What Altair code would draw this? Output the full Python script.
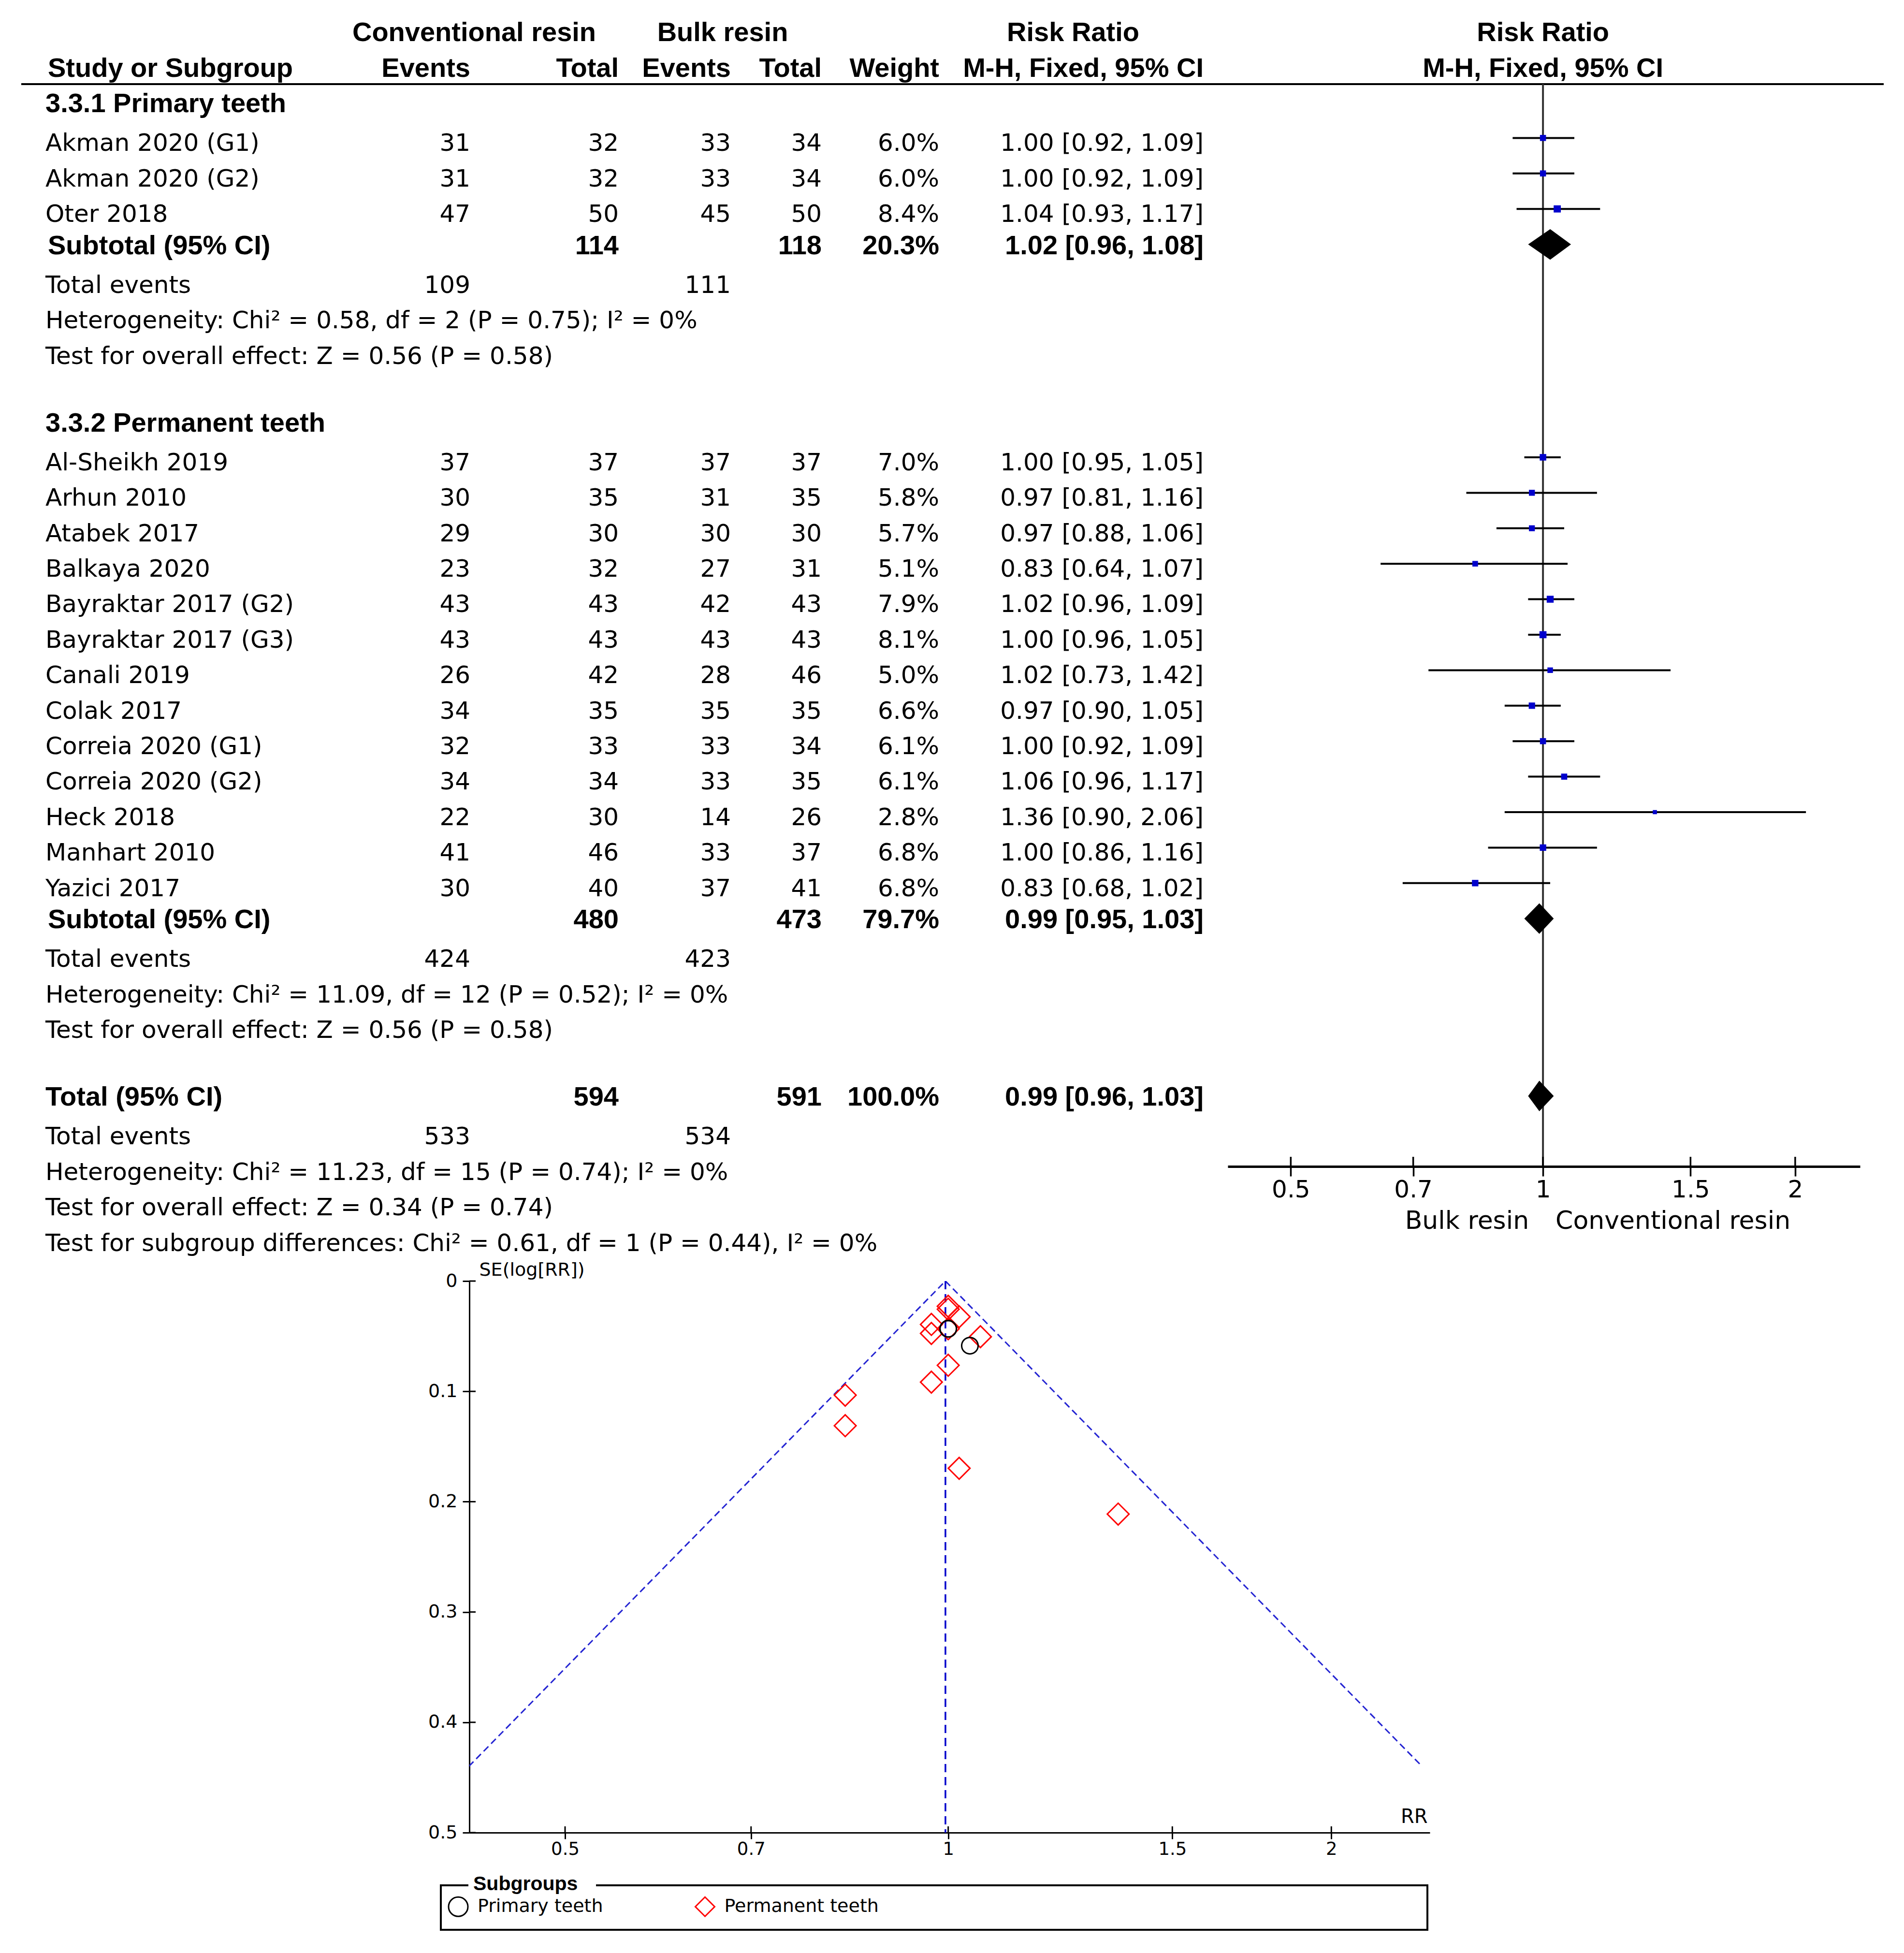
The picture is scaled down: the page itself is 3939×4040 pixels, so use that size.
import math
import altair as alt
import pandas as pd

# ------------------------------------------------------------------ data
group_titles = ["3.3.1 Primary teeth", "3.3.2 Permanent teeth"]
subgroup_names = ["Primary teeth", "Permanent teeth"]

primary_names = ["Akman 2020 (G1)", "Akman 2020 (G2)", "Oter 2018"]
primary_conv_events = [31, 31, 47]
primary_conv_total = [32, 32, 50]
primary_bulk_events = [33, 33, 45]
primary_bulk_total = [34, 34, 50]
primary_weight = [6.0, 6.0, 8.4]
primary_rr = [1.00, 1.00, 1.04]
primary_lo = [0.92, 0.92, 0.93]
primary_hi = [1.09, 1.09, 1.17]

permanent_names = ["Al-Sheikh 2019", "Arhun 2010", "Atabek 2017", "Balkaya 2020",
                   "Bayraktar 2017 (G2)", "Bayraktar 2017 (G3)", "Canali 2019", "Colak 2017",
                   "Correia 2020 (G1)", "Correia 2020 (G2)", "Heck 2018", "Manhart 2010",
                   "Yazici 2017"]
permanent_conv_events = [37, 30, 29, 23, 43, 43, 26, 34, 32, 34, 22, 41, 30]
permanent_conv_total = [37, 35, 30, 32, 43, 43, 42, 35, 33, 34, 30, 46, 40]
permanent_bulk_events = [37, 31, 30, 27, 42, 43, 28, 35, 33, 33, 14, 33, 37]
permanent_bulk_total = [37, 35, 30, 31, 43, 43, 46, 35, 34, 35, 26, 37, 41]
permanent_weight = [7.0, 5.8, 5.7, 5.1, 7.9, 8.1, 5.0, 6.6, 6.1, 6.1, 2.8, 6.8, 6.8]
permanent_rr = [1.00, 0.97, 0.97, 0.83, 1.02, 1.00, 1.02, 0.97, 1.00, 1.06, 1.36, 1.00, 0.83]
permanent_lo = [0.95, 0.81, 0.88, 0.64, 0.96, 0.96, 0.73, 0.90, 0.92, 0.96, 0.90, 0.86, 0.68]
permanent_hi = [1.05, 1.16, 1.06, 1.07, 1.09, 1.05, 1.42, 1.05, 1.09, 1.17, 2.06, 1.16, 1.02]

summary_labels = ["Subtotal (95% CI)", "Subtotal (95% CI)", "Total (95% CI)"]
summary_conv_total = [114, 480, 594]
summary_bulk_total = [118, 473, 591]
summary_weight = [20.3, 79.7, 100.0]
summary_rr = [1.02, 0.99, 0.99]
summary_lo = [0.96, 0.95, 0.96]
summary_hi = [1.08, 1.03, 1.03]
summary_conv_events = [109, 424, 533]
summary_bulk_events = [111, 423, 534]
heterogeneity = ["Heterogeneity: Chi\u00b2 = 0.58, df = 2 (P = 0.75); I\u00b2 = 0%",
                 "Heterogeneity: Chi\u00b2 = 11.09, df = 12 (P = 0.52); I\u00b2 = 0%",
                 "Heterogeneity: Chi\u00b2 = 11.23, df = 15 (P = 0.74); I\u00b2 = 0%"]
overall_effect = ["Test for overall effect: Z = 0.56 (P = 0.58)",
                  "Test for overall effect: Z = 0.56 (P = 0.58)",
                  "Test for overall effect: Z = 0.34 (P = 0.74)"]
subgroup_test = "Test for subgroup differences: Chi\u00b2 = 0.61, df = 1 (P = 0.44), I\u00b2 = 0%"

header_top = ["Conventional resin", "Bulk resin", "Risk Ratio"]
header_cols = ["Events", "Total", "Events", "Total", "Weight", "M-H, Fixed, 95% CI"]
header_study = "Study or Subgroup"
forest_header = ["Risk Ratio", "M-H, Fixed, 95% CI"]
favours = ["Bulk resin", "Conventional resin"]
rr_ticks = [0.5, 0.7, 1, 1.5, 2]
se_ticks = [0, 0.1, 0.2, 0.3, 0.4, 0.5]
pooled_rr = 0.995
funnel_se_max = 0.44

# ------------------------------------------------------------------ layout constants
STEP = 73.4
ROW_TOP = -1.779
REG = 0.12
TXT = 0.04          # small downward nudge of text relative to the row grid
TABLE_W, TABLE_H = 2529, 2600
FOREST_W, FOREST_H = 1308, 2405
FUNNEL_W, FUNNEL_H = 1987, 1141
FUNNEL_X0, FUNNEL_Y0 = 960, 2642       # funnel plot origin in chart coordinates
SPACER_W = FUNNEL_X0
RR_DOMAIN = [0.4205, 2.39]
COL_X = [83, 962, 1269, 1501, 1689, 1932, 2479, 970, 1484, 2209, 88]
COL_ALIGN = ["left", "right", "right", "right", "right", "right", "right",
             "center", "center", "center", "left"]
REGF = "DejaVu Sans"
BOLDF = "Liberation Sans"

groups = [
    dict(title=group_titles[0], sub=subgroup_names[0], names=primary_names,
         ce=primary_conv_events, ct=primary_conv_total, be=primary_bulk_events,
         bt=primary_bulk_total, w=primary_weight, rr=primary_rr, lo=primary_lo, hi=primary_hi),
    dict(title=group_titles[1], sub=subgroup_names[1], names=permanent_names,
         ce=permanent_conv_events, ct=permanent_conv_total, be=permanent_bulk_events,
         bt=permanent_bulk_total, w=permanent_weight, rr=permanent_rr, lo=permanent_lo,
         hi=permanent_hi),
]

text_rows, study_rows, sum_rows = [], [], []


def T(row, col, text, bold):
    text_rows.append(dict(row=row + TXT, col=col, text=str(text), bold=bold))


def ci_text(r, lo, hi):
    return f"{r:.2f} [{lo:.2f}, {hi:.2f}]"


for c, h in zip([7, 8, 9], header_top):
    T(-1, c, h, True)
T(0, 10, header_study, True)
for c, h in zip(range(1, 7), header_cols):
    T(0, c, h, True)


def summary_block(r, k, col_label):
    T(r, col_label, summary_labels[k], True)
    T(r, 2, summary_conv_total[k], True)
    T(r, 4, summary_bulk_total[k], True)
    T(r, 5, f"{summary_weight[k]:.1f}%", True)
    T(r, 6, ci_text(summary_rr[k], summary_lo[k], summary_hi[k]), True)
    sum_rows.append(dict(k=k, row=r, rr=summary_rr[k], lo=summary_lo[k], hi=summary_hi[k]))
    r += 1
    T(r + REG, 0, "Total events", False)
    T(r + REG, 1, summary_conv_events[k], False)
    T(r + REG, 3, summary_bulk_events[k], False)
    r += 1
    T(r + REG, 0, heterogeneity[k], False)
    r += 1
    T(r + REG, 0, overall_effect[k], False)
    return r + 1


r = 1
for k, g in enumerate(groups):
    T(r, 0, g["title"], True)
    r += 1
    for j, name in enumerate(g["names"]):
        y = r + REG
        T(y, 0, name, False)
        T(y, 1, g["ce"][j], False)
        T(y, 2, g["ct"][j], False)
        T(y, 3, g["be"][j], False)
        T(y, 4, g["bt"][j], False)
        T(y, 5, f"{g['w'][j]:.1f}%", False)
        T(y, 6, ci_text(g["rr"][j], g["lo"][j], g["hi"][j]), False)
        se = (math.log(g["hi"][j]) - math.log(g["lo"][j])) / 3.92
        study_rows.append(dict(row=r, rr=g["rr"][j], lo=g["lo"][j], hi=g["hi"][j],
                               weight=g["w"][j], subgroup=g["sub"], se=se, name=name))
        r += 1
    r = summary_block(r, k, 10)
    r += 1
r = summary_block(r, 2, 0)
T(r + REG, 0, subgroup_test, False)

text_df = pd.DataFrame(text_rows)
study_df = pd.DataFrame(study_rows)

# ------------------------------------------------------------------ table panel
t_y = alt.Y("row:Q", scale=alt.Scale(domain=[ROW_TOP, ROW_TOP + TABLE_H / STEP],
                                     reverse=True, zero=False, nice=False), axis=None)
table_layers = []
for c in range(len(COL_X)):
    for bold in (False, True):
        sub = text_df[(text_df["col"] == c) & (text_df["bold"] == bold)]
        if len(sub) == 0:
            continue
        if bold:
            st = dict(font=BOLDF, fontSize=56, fontWeight="bold")
        else:
            st = dict(font=REGF, fontSize=50, fontWeight="normal")
        table_layers.append(
            alt.Chart(sub).mark_text(baseline="middle", color="black", align=COL_ALIGN[c], **st)
            .encode(x=alt.value(COL_X[c]), y=t_y, text="text:N")
        )
line_df = pd.DataFrame({"row": [0.482]})
table_layers.append(
    alt.Chart(line_df).mark_rule(color="black", strokeWidth=4).encode(
        x=alt.value(33), x2=alt.value(3886), y=t_y)
)
table = alt.layer(*table_layers).properties(width=TABLE_W, height=TABLE_H)

# ------------------------------------------------------------------ forest panel
AXIS_ROW = ROW_TOP + FOREST_H / STEP
fx_scale = alt.Scale(type="log", domain=RR_DOMAIN, nice=False)
forest_axis = alt.Axis(values=rr_ticks, format="~g", title=None, grid=False,
                       domainColor="black", domainWidth=5, tickColor="black", tickWidth=3.5,
                       tickSize=20, labelFont=REGF, labelFontSize=50, labelColor="black",
                       labelBaseline="middle", labelPadding=28)
fy = alt.Scale(domain=[ROW_TOP, AXIS_ROW], reverse=True, zero=False, nice=False)


def FX(field):
    return alt.X(field, scale=fx_scale, axis=forest_axis)


def FY(field):
    return alt.Y(field, scale=fy, axis=None)


vline_df = pd.DataFrame({"rr": [1.0], "y1": [0.482], "y2": [AXIS_ROW]})
vline = alt.Chart(vline_df).mark_rule(color="#333333", strokeWidth=4).encode(
    x=FX("rr:Q"), y=FY("y1:Q"), y2="y2:Q")
ci_lines = alt.Chart(study_df).mark_rule(color="black", strokeWidth=4).encode(
    x=FX("lo:Q"), x2="hi:Q", y=FY("row:Q"))
squares = alt.Chart(study_df).mark_square(color="#0000CC", opacity=1).encode(
    x=FX("rr:Q"), y=FY("row:Q"),
    size=alt.Size("weight:Q", scale=alt.Scale(domain=[0, 8.4], range=[0, 220]), legend=None))

H = 0.43
dia_rows = []
for s in sum_rows:
    dia_rows += [dict(k=s["k"], rr=s["lo"], ytop=s["row"], ybot=s["row"]),
                 dict(k=s["k"], rr=s["rr"], ytop=s["row"] - H, ybot=s["row"] + H),
                 dict(k=s["k"], rr=s["hi"], ytop=s["row"], ybot=s["row"])]
diamonds = alt.Chart(pd.DataFrame(dia_rows)).mark_area(color="black", opacity=1).encode(
    x=FX("rr:Q"), y=FY("ytop:Q"), y2="ybot:Q", detail="k:N")

tick_df = pd.DataFrame({"rr": rr_ticks, "y1": [AXIS_ROW - 20 / STEP] * len(rr_ticks),
                        "y2": [AXIS_ROW] * len(rr_ticks)})
ticks_up = alt.Chart(tick_df).mark_rule(color="black", strokeWidth=3.5).encode(
    x=FX("rr:Q"), y=FY("y1:Q"), y2="y2:Q")

fh_df = pd.DataFrame({"text": forest_header, "row": [-1 + TXT, 0 + TXT], "rr": [1.0, 1.0]})
f_head = alt.Chart(fh_df).mark_text(
    font=BOLDF, fontWeight="bold", fontSize=56, align="center", baseline="middle",
    color="black").encode(x=FX("rr:Q"), y=FY("row:Q"), text="text:N")

fav_df = pd.DataFrame({"text": favours, "rr": [1.0, 1.0], "row": [32.52, 32.52]})
fav_l = alt.Chart(fav_df.iloc[[0]]).mark_text(
    font=REGF, fontSize=52, align="right", baseline="middle", dx=-29, color="black").encode(
    x=FX("rr:Q"), y=FY("row:Q"), text="text:N")
fav_r = alt.Chart(fav_df.iloc[[1]]).mark_text(
    font=REGF, fontSize=52, align="left", baseline="middle", dx=26, color="black").encode(
    x=FX("rr:Q"), y=FY("row:Q"), text="text:N")

forest = alt.layer(vline, ci_lines, diamonds, squares, ticks_up, f_head, fav_l, fav_r).properties(
    width=FOREST_W, height=FOREST_H)

# ------------------------------------------------------------------ funnel panel
gx_axis = alt.Axis(values=rr_ticks, format="~g", title="RR", titleX=FUNNEL_W - 5, titleY=-33,
                   titleAlign="right", titleBaseline="middle", titleAngle=0, titleFont=REGF,
                   titleFontSize=40, titleFontWeight="normal", titleColor="black",
                   labelFont=REGF, labelFontSize=37, labelColor="black", labelBaseline="middle",
                   labelPadding=21, tickSize=13, tickWidth=3, tickColor="black",
                   domainWidth=3, domainColor="black", grid=False)
gy_axis = alt.Axis(values=se_ticks, format="~g", title="SE(log[RR])", titleX=20, titleY=-23,
                   titleAlign="left", titleBaseline="middle", titleAngle=0, titleFont=REGF,
                   titleFontSize=38, titleFontWeight="normal", titleColor="black",
                   labelFont=REGF, labelFontSize=38, labelColor="black", labelPadding=11,
                   tickSize=14, tickWidth=3, tickColor="black", domainWidth=3,
                   domainColor="black", grid=False)
gx_scale = alt.Scale(type="log", domain=RR_DOMAIN, nice=False)
gy_scale = alt.Scale(domain=[0, 0.5], reverse=True, zero=False, nice=False)


def GX(field):
    return alt.X(field, scale=gx_scale, axis=gx_axis)


def GY(field):
    return alt.Y(field, scale=gy_scale, axis=gy_axis)


funnel_lines = pd.DataFrame({
    "side": ["left", "left", "right", "right"],
    "se": [0, funnel_se_max, 0, funnel_se_max],
    "rr": [pooled_rr, pooled_rr * math.exp(-1.96 * funnel_se_max),
           pooled_rr, pooled_rr * math.exp(1.96 * funnel_se_max)],
})
f_lines = alt.Chart(funnel_lines).mark_line(
    color="#2424D2", strokeWidth=3, strokeDash=[14, 8], clip=True).encode(
    x=GX("rr:Q"), y=GY("se:Q"), detail="side:N")
pool_df = pd.DataFrame({"rr": [pooled_rr, pooled_rr], "se": [0, 0.5]})
f_vline = alt.Chart(pool_df).mark_line(
    color="#0000CC", strokeWidth=3.5, strokeDash=[17, 10]).encode(x=GX("rr:Q"), y=GY("se:Q"))

# legends of concatenated views are placed relative to the whole chart
lg = alt.Legend(orient="none", legendX=FUNNEL_X0 - 44.5, legendY=FUNNEL_Y0 + 1272.5,
                direction="horizontal", title=None, labelFont=REGF, labelFontSize=38,
                labelColor="black", labelOffset=18.5, labelLimit=1000, columnPadding=183.5,
                padding=0, symbolStrokeWidth=3, symbolSize=1600)
shape_enc = alt.Shape("subgroup:N", scale=alt.Scale(domain=subgroup_names,
                                                    range=["circle", "diamond"]), legend=lg)
color_enc = alt.Color("subgroup:N", scale=alt.Scale(domain=subgroup_names,
                                                    range=["black", "#FF0000"]), legend=lg)
pts_perm = alt.Chart(study_df[study_df["subgroup"] == subgroup_names[1]]).mark_point(
    filled=False, strokeWidth=3, opacity=1, size=2025).encode(
    x=GX("rr:Q"), y=GY("se:Q"), shape=shape_enc, color=color_enc)
pts_prim = alt.Chart(study_df[study_df["subgroup"] == subgroup_names[0]]).mark_point(
    filled=False, strokeWidth=3, opacity=1, size=1156).encode(
    x=GX("rr:Q"), y=GY("se:Q"), shape=shape_enc, color=color_enc)

se_tick_df = pd.DataFrame({"se": se_ticks})
y_in = alt.Chart(se_tick_df).mark_rule(color="black", strokeWidth=3).encode(
    y=GY("se:Q"), x=alt.value(0), x2=alt.value(13))
x_in = alt.Chart(pd.DataFrame({"rr": rr_ticks})).mark_rule(color="black", strokeWidth=3).encode(
    x=GX("rr:Q"), y=alt.value(FUNNEL_H - 13), y2=alt.value(FUNNEL_H))

box_df = pd.DataFrame({"t": ["Subgroups"]})
box = alt.Chart(box_df).mark_rect(fillOpacity=0, stroke="black", strokeWidth=4).encode(
    x=alt.value(-59), x2=alt.value(1982), y=alt.value(1250), y2=alt.value(1342))
patch = alt.Chart(box_df).mark_rect(color="white").encode(
    x=alt.value(-2), x2=alt.value(262), y=alt.value(1238), y2=alt.value(1262))
box_title = alt.Chart(box_df).mark_text(
    font=BOLDF, fontWeight="bold", fontSize=41, align="left", baseline="middle",
    color="black").encode(x=alt.value(8), y=alt.value(1248), text="t:N")

funnel = alt.layer(f_lines, f_vline, y_in, x_in, pts_perm, pts_prim, box, patch,
                   box_title).properties(width=FUNNEL_W, height=FUNNEL_H)

spacer = alt.Chart(pd.DataFrame({"v": [0]})).mark_point(opacity=0).encode(
    x=alt.value(0), y=alt.value(0)).properties(width=SPACER_W, height=10)

row1 = alt.hconcat(table, forest, spacing=0, bounds="flush")
row2 = alt.hconcat(spacer, funnel, spacing=0, bounds="flush")
chart = alt.vconcat(row1, row2, spacing=0).properties(padding=0).configure_view(
    stroke=None)

chart.save("out.html", embed_options={"renderer": "svg", "actions": False})
